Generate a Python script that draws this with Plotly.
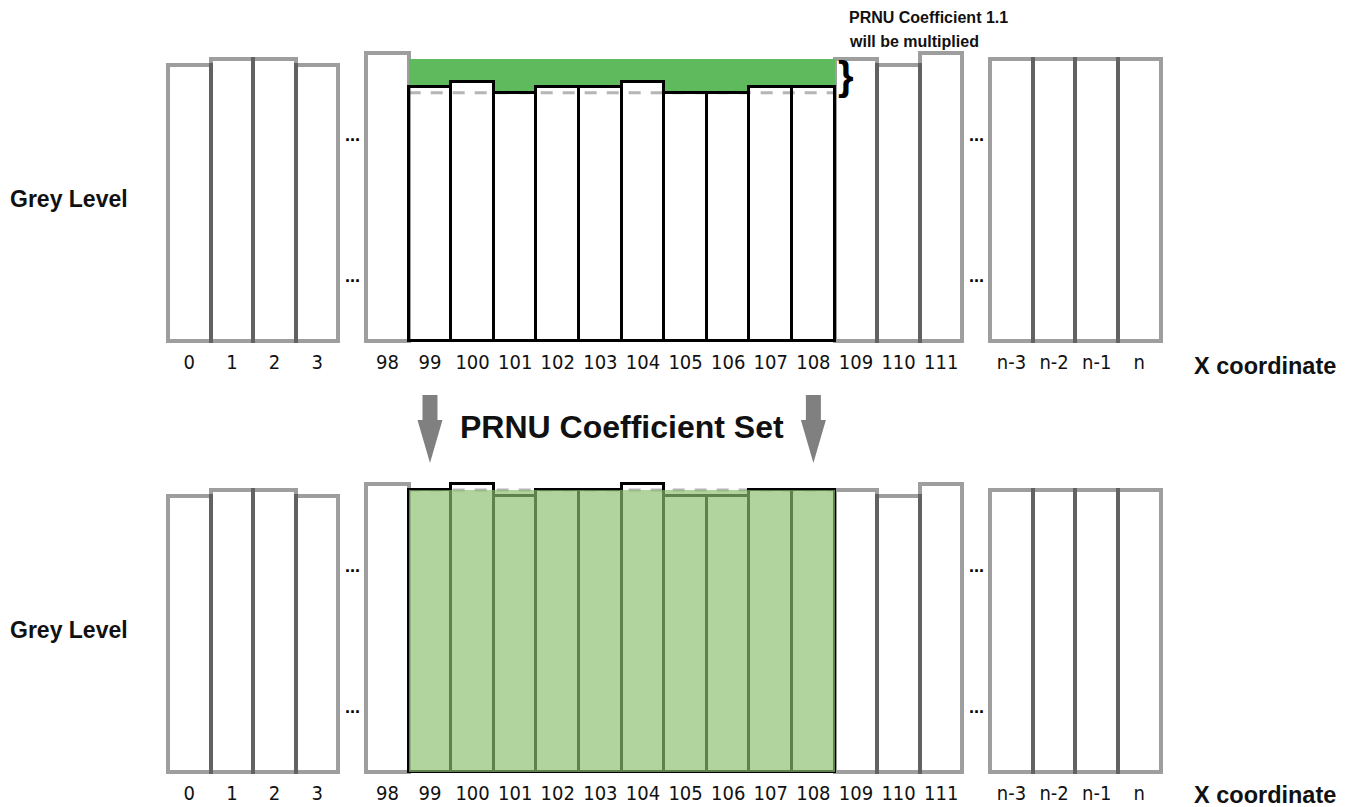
import plotly.graph_objects as go

# ---- data ----
left_labels = ["0", "1", "2", "3"]
left_values = [196, 200, 200, 196]
mid_labels = [str(i) for i in range(98, 112)]
mid_values = [204, 180, 184, 176, 180, 180, 184, 176, 176, 180, 180, 200, 196, 204]
right_labels = ["n-3", "n-2", "n-1", "n"]
right_values = [200, 200, 200, 200]

sel_labels = [str(i) for i in range(99, 109)]          # pixels the coefficient is applied to
sel_corrected = [200, 204, 196, 200, 200, 204, 196, 196, 200, 200]
target_level = 200
dot_levels = [146, 46]

W, H = 1351, 807
PX = 42.6          # px per bar
SCALE = 1.41       # px per grey-level unit
GAP = 0.65
FONT = "Liberation Sans, Arial, sans-serif"
NARROW = "Liberation Sans Narrow, DejaVu Sans Condensed, Arial Narrow, sans-serif"

# bar centres
left_x = [i for i in range(len(left_labels))]
mid_x = [len(left_labels) + GAP + i for i in range(len(mid_labels))]
right_x = [mid_x[-1] + 1 + GAP + i for i in range(len(right_labels))]
all_x = left_x + mid_x + right_x
all_labels = left_labels + mid_labels + right_labels
all_values = left_values + mid_values + right_values

sel_x = [mid_x[mid_labels.index(l)] for l in sel_labels]
sel_raw = [mid_values[mid_labels.index(l)] for l in sel_labels]
grey_x = [x for x, l in zip(all_x, all_labels) if l not in sel_labels]
grey_v = [v for v, l in zip(all_values, all_labels) if l not in sel_labels]

x0_px = 168  # left edge of first bar
xrange = [-0.5 - x0_px / PX, -0.5 + (W - x0_px) / PX]


def px(p):
    return p / W


def py(p):
    return 1 - p / H


GREY_LINE = dict(color="rgba(0,0,0,0.38)", width=4)
CLEAR = "rgba(0,0,0,0)"

fig = go.Figure()

for ya, xa in (("y", "x"), ("y2", "x2")):
    fig.add_trace(go.Bar(x=grey_x, y=grey_v, width=1, marker=dict(color=CLEAR, line=GREY_LINE),
                         xaxis=xa, yaxis=ya, hoverinfo="skip"))

# top panel: gap up to the target level
fig.add_trace(go.Bar(x=sel_x, y=[target_level - v for v in sel_raw], base=sel_raw, width=1,
                     marker=dict(color="#5fba5e", line=dict(width=0)), xaxis="x", yaxis="y"))
fig.add_trace(go.Bar(x=sel_x, y=sel_raw, width=1,
                     marker=dict(color=CLEAR, line=dict(color="black", width=3)), xaxis="x", yaxis="y"))

# bottom panel: corrected values with green overlay
fig.add_trace(go.Bar(x=sel_x, y=sel_corrected, width=1,
                     marker=dict(color=CLEAR, line=dict(color="black", width=3)), xaxis="x2", yaxis="y2"))
fig.add_trace(go.Bar(x=[sum(sel_x) / len(sel_x)], y=[target_level], width=len(sel_x),
                     marker=dict(color="rgba(140,190,110,0.68)", line=dict(width=0)), xaxis="x2", yaxis="y2"))

# dashed reference lines
for ya, xa, lvl in (("y", "x", min(sel_raw)), ("y2", "x2", target_level)):
    fig.add_shape(type="line", xref=xa, yref=ya, x0=sel_x[0] - 0.5, x1=sel_x[-1] + 0.5, y0=lvl, y1=lvl,
                  line=dict(color="#b5b5b5", width=3, dash="12px,10px"), layer="below")

# ellipsis markers between groups
gap_centres = [(left_x[-1] + mid_x[0]) / 2, (mid_x[-1] + right_x[0]) / 2]
for ya, xa in (("y", "x"), ("y2", "x2")):
    for gx in gap_centres:
        for lvl in dot_levels:
            fig.add_annotation(x=gx, y=lvl, xref=xa, yref=ya, text="<b>...</b>", showarrow=False,
                               yanchor="middle", font=dict(family=FONT, size=18, color="black"))

# arrows
for cx in (sel_x[0], sel_x[-1]):
    sw, hw = 7.5 / PX, 12.5 / PX
    path = (f"M {cx - sw} {py(395)} L {cx + sw} {py(395)} L {cx + sw} {py(420)} L {cx + hw} {py(420)} "
            f"L {cx} {py(463)} L {cx - hw} {py(420)} L {cx - sw} {py(420)} Z")
    fig.add_shape(type="path", xref="x", yref="paper", path=path, fillcolor="#808080", line=dict(width=0))


def label(x, y, text, size, anchor="left", color="#111"):
    fig.add_annotation(x=px(x), y=py(y), xref="paper", yref="paper", xanchor=anchor, yanchor="middle",
                       text=text, showarrow=False, font=dict(family=FONT, size=size, color=color))


for yc in (199, 630):
    label(8, yc, "<b>Grey Level</b>", 23)
for yc in (366, 795):
    label(1192, yc, "<b>X coordinate</b>", 23.5)
label(622, 427, "<b>PRNU Coefficient Set</b>", 32, anchor="center")
label(847, 18, "<b>PRNU Coefficient 1.1</b>", 16)
label(847, 42, "<b>will be multiplied</b>", 16)
label(836, 76, "<b>}</b>", 40, color="black")

axis_common = dict(range=xrange, showgrid=False, zeroline=False, showline=False, tickmode="array",
                   tickvals=all_x, ticktext=all_labels, ticks="", tickfont=dict(family=NARROW, size=20, color="#111"))
yaxis_common = dict(visible=False, showgrid=False, zeroline=False)

fig.update_layout(
    width=W, height=H,
    margin=dict(l=0, r=0, t=0, b=0),
    barmode="overlay", bargap=0, showlegend=False,
    plot_bgcolor="white", paper_bgcolor="white",
    xaxis=dict(anchor="y", domain=[0, 1], **axis_common),
    xaxis2=dict(anchor="y2", domain=[0, 1], **axis_common),
    yaxis=dict(domain=[py(348), 1], range=[-7 / SCALE, 341 / SCALE], **yaxis_common),
    yaxis2=dict(domain=[py(779), py(440)], range=[-7 / SCALE, (772 - 440) / SCALE], **yaxis_common),
)

# page margin off so the figure fills the window exactly
fig.write_html("out.html", config={"displayModeBar": False},
               post_script="document.body.style.margin='0';"
                           "document.documentElement.style.overflow='hidden';")
